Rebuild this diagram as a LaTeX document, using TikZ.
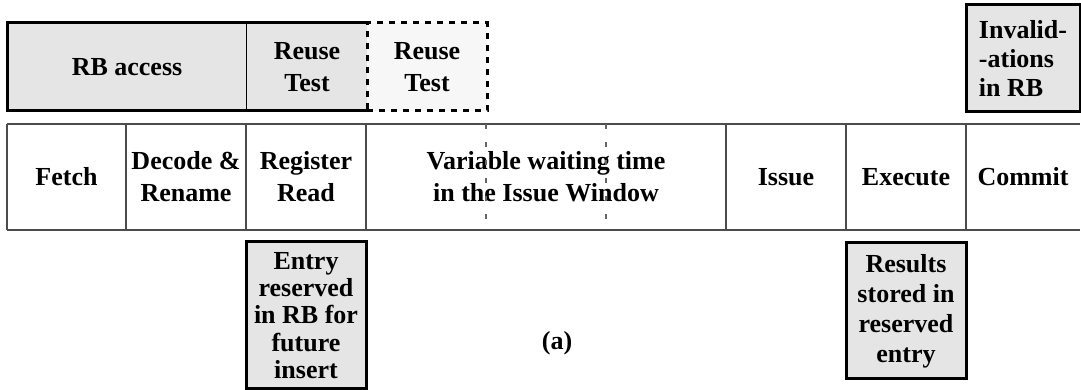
\documentclass[tikz,border=0pt]{standalone}
\usepackage{fontspec}
\setmainfont{Liberation Serif}
\usetikzlibrary{positioning,calc}

\tikzset{
  stage/.style={minimum width=60pt, minimum height=53pt, inner sep=2pt,
    outer sep=0pt, align=center},
  tabline/.style={draw=black!70, line width=1pt},
  waitline/.style={draw=black!60, line width=0.6pt, dash pattern=on 2.5pt off 6.5pt},
  boxline/.style={draw=black, line width=1.5pt},
  rbbox/.style={boxline, fill=gray!20, minimum width=60pt, minimum height=44pt,
    inner sep=2pt, outer sep=0pt, align=center},
  spare/.style={rbbox, fill=gray!6, dash pattern=on 3pt off 3pt}
}

\begin{document}
\begin{tikzpicture}[x=1pt, y=1pt,
  every node/.style={font=\bfseries\fontsize{13}{16}\selectfont}]
\useasboundingbox (0,0) rectangle (540.5,195);

% pipeline stages
\node[stage, minimum width=59.5pt] (fetch) at (33.25,106.5) {Fetch};
\node[stage, right=0pt of fetch] (decode) {Decode \&\\Rename};
\node[stage, right=0pt of decode] (regread) {Register\\Read};
\node[stage, minimum width=180pt, right=0pt of regread] (waiting)
  {Variable waiting time\\in the Issue Window};
\node[stage, right=0pt of waiting] (issue) {Issue};
\node[stage, right=0pt of issue] (execute) {Execute};
\node[stage, minimum width=57pt, right=0pt of execute] (commit) {Commit};

\draw[tabline] (fetch.north west) -- (commit.north east);
\draw[tabline] (fetch.south west) -- (commit.south east);
\draw[tabline] (fetch.north west) -- (fetch.south west);
\foreach \n in {fetch,decode,regread,waiting,issue,execute}
  \draw[tabline] (\n.north east) -- (\n.south east);
\foreach \f in {1/3,2/3}
  \draw[waitline] ($(waiting.north west)!\f!(waiting.north east)$)
    -- ($(waiting.south west)!\f!(waiting.south east)$);

% reuse buffer activity
\node[rbbox, minimum width=120pt, above right=6.5pt and 0pt of fetch.north west]
  (rbacc) {RB access};
\node[rbbox, draw=none, right=0pt of rbacc] (reuse) {Reuse\\Test};
\draw[boxline] (reuse.north west) -- (reuse.north east)
  (reuse.south west) -- (reuse.south east);
\node[spare, right=0pt of reuse] (reuse2) {Reuse\\Test};
\node[rbbox, minimum width=57pt, minimum height=53.5pt, align=left,
  font=\bfseries\fontsize{13}{14.5}\selectfont, above=6pt of commit]
  (inval) {Invalid-\\-ations\\in RB};

\node[rbbox, minimum height=73.5pt, below=6pt of regread,
  font=\bfseries\fontsize{13}{13.6}\selectfont]
  (entry) {Entry\\reserved\\in RB for\\future\\insert};
\node[rbbox, minimum height=68pt, below=6.5pt of execute,
  font=\bfseries\fontsize{13}{15}\selectfont]
  (results) {Results\\stored in\\reserved\\entry};

\node (caption) at (278.5,23.5) {(a)};
\end{tikzpicture}
\end{document}
